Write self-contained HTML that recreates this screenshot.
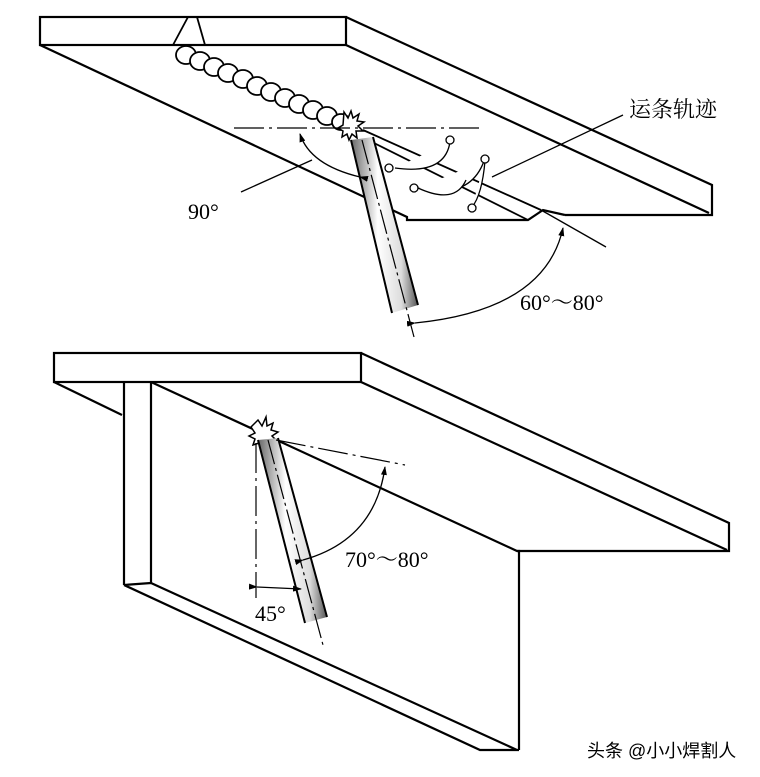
<!DOCTYPE html>
<html><head><meta charset="utf-8"><style>
html,body{margin:0;padding:0;background:#fff}
svg{display:block}
text{font-family:"Liberation Serif","Noto Serif CJK SC",serif;fill:#000}
</style></head><body>
<svg width="760" height="777" viewBox="0 0 760 777" xmlns="http://www.w3.org/2000/svg">
<defs>
<linearGradient id="rod" x1="0" y1="0" x2="1" y2="0">
<stop offset="0" stop-color="#666"/><stop offset="0.4" stop-color="#fff"/><stop offset="0.75" stop-color="#ddd"/><stop offset="1" stop-color="#555"/>
</linearGradient>
<marker id="ar" markerWidth="9" markerHeight="6" refX="8" refY="3" orient="auto" markerUnits="userSpaceOnUse">
<path d="M0,0 L9,3 L0,6 Z" fill="#000"/></marker>
</defs>
<g fill="none" stroke="#000" stroke-width="2.2" stroke-linejoin="miter">
<!-- TOP FIGURE -->
<rect x="40" y="17" width="306" height="28" fill="#fff"/>
<path d="M346,17 L712,185 L712,215 L565,215"/>
<path d="M346,45 L709,213"/>
<path d="M40,45 L407,217 L407,220 L528,220 L543,210 L565,215"/>
<path d="M188,17 L173,45 M197,17 L205,45" stroke-width="1.8"/>
<path d="M363,130 L541,210 M370,141 L528,220" stroke-width="1.8"/>
<!-- weld bead -->
<g stroke-width="1.8" fill="#fff">
<ellipse cx="186" cy="55" rx="10" ry="9"/>
<ellipse cx="200" cy="61" rx="10" ry="9"/>
<ellipse cx="214" cy="67" rx="10" ry="9"/>
<ellipse cx="228" cy="73" rx="10" ry="9"/>
<ellipse cx="243" cy="79" rx="10" ry="9"/>
<ellipse cx="257" cy="86" rx="10" ry="9"/>
<ellipse cx="271" cy="92" rx="10" ry="9"/>
<ellipse cx="285" cy="98" rx="10" ry="9"/>
<ellipse cx="299" cy="104" rx="10" ry="9"/>
<ellipse cx="313" cy="110" rx="10" ry="9"/>
<ellipse cx="327" cy="116" rx="10" ry="9"/>
<ellipse cx="341" cy="122" rx="9" ry="8"/>
</g>
<path d="M344,112 l4,6 l3,-7 l2,7 l6,-4 l-2,7 l7,1 l-6,4 l5,5 l-7,0 l1,7 l-5,-4 l-3,6 l-2,-6 l-5,3 l1,-6 l-5,-3 l5,-3 z" fill="#fff" stroke-width="1.5"/>
<path d="M234,128 L480,128" stroke-width="1.3" stroke-dasharray="30,5,3,5"/>
<!-- electrode -->
<polygon points="351,140 373,137 418,305 392,313" fill="url(#rod)" stroke="none"/>
<path d="M351,140 L392,313 M373,137 L418,305" stroke-width="2"/>
<path d="M362,140 L414,337" stroke-width="1.2" stroke-dasharray="25,4,3,4"/>
<path d="M360,177 Q310,165 300,134" stroke-width="1.3" marker-end="url(#ar)" marker-start="url(#ar)"/>
<path d="M241,192 L312,160" stroke-width="1.3"/>
<path d="M623,115 L492,177" stroke-width="1.3"/>
<g stroke-width="1.3" fill="#fff">
<path d="M450,142 Q445,175 395,168"/>
<path d="M484,161 Q470,200 418,188"/>
<path d="M485,161 Q482,195 472,207"/>
<path d="M418,188 Q455,205 466,180"/>
<circle cx="450" cy="140" r="4"/>
<circle cx="485" cy="159" r="4"/>
<circle cx="389" cy="168" r="4"/>
<circle cx="414" cy="188" r="4"/>
<circle cx="472" cy="208" r="4"/>
</g>
<path d="M541,210 L606,247" stroke-width="1.3"/>
<path d="M415,323 Q545,310 563,228" stroke-width="1.3" marker-end="url(#ar)" marker-start="url(#ar)"/>

<!-- BOTTOM FIGURE -->
<rect x="54" y="353" width="307" height="29" fill="#fff"/>
<path d="M361,353 L729,523 L729,551 L517,551"/>
<path d="M361,382 L727,550"/>
<path d="M54,382 L122,415"/>
<path d="M124,382 L124,585 M151,382 L151,583"/>
<path d="M151,382 L517,551 L519,551 L519,750"/>
<path d="M124,585 L480,750 L519,750 M151,583 L517,750 M124,585 L151,583"/>
<path d="M258,420 l4,6 l4,-9 l1,9 l6,-3 l-2,7 l7,2 l-6,4 l5,5 l-7,0 l0,6 l-5,-4 l-4,6 l-2,-6 l-6,2 l2,-6 l-6,-3 l6,-3 l-4,-6 z" fill="#fff" stroke-width="1.5"/>
<polygon points="258,440 278,438 327,617 305,623" fill="url(#rod)" stroke="none"/>
<path d="M258,440 L305,623 M278,438 L327,617" stroke-width="2"/>
<path d="M268,440 L323,645" stroke-width="1.2" stroke-dasharray="25,4,3,4"/>
<path d="M256,443 L256,598" stroke-width="1.2" stroke-dasharray="30,5,3,5"/>
<path d="M276,440 L405,465" stroke-width="1.2" stroke-dasharray="30,5,3,5"/>
<path d="M303,560 Q375,540 385,467" stroke-width="1.3" marker-end="url(#ar)" marker-start="url(#ar)"/>
<path d="M257,587 L301,589" stroke-width="1.3" marker-end="url(#ar)" marker-start="url(#ar)"/>
</g>
<text x="629" y="117" font-size="22">运条轨迹</text>
<text x="188" y="219" font-size="22">90°</text>
<text x="520" y="310" font-size="22">60°～80°</text>
<text x="345" y="567" font-size="22">70°～80°</text>
<text x="255" y="621" font-size="22">45°</text>
<text x="587" y="757" font-size="18" style="font-family:'Liberation Sans','Noto Sans CJK SC',sans-serif" fill="#333">头条 @小小焊割人</text>
</svg>
</body></html>
